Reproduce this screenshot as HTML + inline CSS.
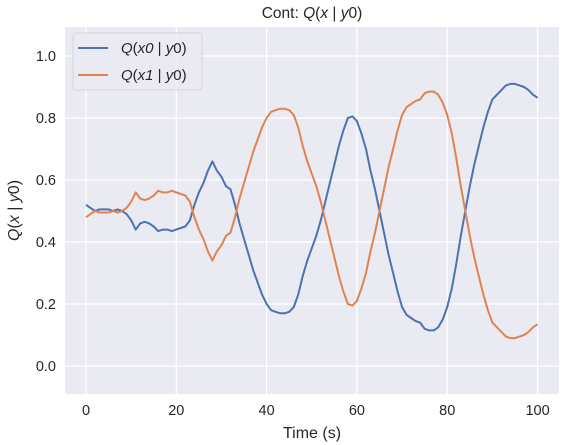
<!DOCTYPE html>
<html><head><meta charset="utf-8"><style>
body{margin:0;background:#fff;}
svg{display:block;font-family:"Liberation Sans","DejaVu Sans",sans-serif;}
</style></head><body>
<svg id="chart" width="562" height="445"></svg>
<script>
const times = [0,1,2,3,4,5,6,7,8,9,10,11,12,13,14,15,16,17,18,19,20,21,22,23,24,25,26,27,28,29,30,31,32,33,34,35,36,37,38,39,40,41,42,43,44,45,46,47,48,49,50,51,52,53,54,55,56,57,58,59,60,61,62,63,64,65,66,67,68,69,70,71,72,73,74,75,76,77,78,79,80,81,82,83,84,85,86,87,88,89,90,91,92,93,94,95,96,97,98,99,100];
const q0 = [0.52,0.51,0.50,0.505,0.505,0.505,0.50,0.505,0.50,0.49,0.47,0.44,0.46,0.465,0.46,0.45,0.435,0.44,0.44,0.435,0.44,0.445,0.45,0.47,0.52,0.56,0.59,0.63,0.66,0.63,0.61,0.58,0.57,0.52,0.46,0.41,0.36,0.31,0.27,0.23,0.20,0.18,0.175,0.17,0.17,0.175,0.19,0.23,0.29,0.34,0.38,0.42,0.47,0.53,0.59,0.65,0.71,0.76,0.80,0.805,0.79,0.75,0.70,0.63,0.57,0.50,0.43,0.36,0.30,0.24,0.19,0.165,0.155,0.145,0.14,0.12,0.115,0.115,0.125,0.15,0.19,0.25,0.33,0.42,0.50,0.58,0.65,0.71,0.77,0.82,0.86,0.875,0.89,0.905,0.91,0.91,0.905,0.90,0.89,0.875,0.865];
const q1 = [0.48,0.49,0.50,0.495,0.495,0.495,0.50,0.495,0.50,0.51,0.53,0.56,0.54,0.535,0.54,0.55,0.565,0.56,0.56,0.565,0.56,0.555,0.55,0.53,0.48,0.44,0.41,0.37,0.34,0.37,0.39,0.42,0.43,0.48,0.54,0.59,0.64,0.69,0.73,0.77,0.80,0.82,0.825,0.83,0.83,0.825,0.81,0.77,0.71,0.66,0.62,0.58,0.53,0.47,0.41,0.35,0.29,0.24,0.20,0.195,0.21,0.25,0.30,0.37,0.43,0.50,0.57,0.64,0.70,0.76,0.81,0.835,0.845,0.855,0.86,0.88,0.885,0.885,0.875,0.85,0.81,0.75,0.67,0.58,0.50,0.42,0.35,0.29,0.23,0.18,0.14,0.125,0.11,0.095,0.09,0.09,0.095,0.10,0.11,0.125,0.135];
const xTicks = [0,20,40,60,80,100];
const yTicks = [0.0,0.2,0.4,0.6,0.8,1.0];
const yTickLabels = ["0.0","0.2","0.4","0.6","0.8","1.0"];

const NS="http://www.w3.org/2000/svg";
const svg=document.getElementById('chart');
const L=65,R=559,T=27,B=394;
const xMin=-4.65,xMax=104.75,yMin=-0.0903,yMax=1.0935;
const sx=v=>L+(v-xMin)/(xMax-xMin)*(R-L);
const sy=v=>B-(v-yMin)/(yMax-yMin)*(B-T);
function mk(tag,attrs,parent){const e=document.createElementNS(NS,tag);for(const k in attrs)e.setAttribute(k,attrs[k]);(parent||svg).appendChild(e);return e;}

const bg=mk('rect',{x:L,y:T,width:R-L,height:B-T,fill:'#eaeaf2'});



xTicks.forEach(t=>{
  const g=mk('line',{x1:sx(t),x2:sx(t),y1:T,y2:B,stroke:'#fff','stroke-width':1.2});
  
  
  const tx=mk('text',{x:sx(t),y:B+21,'text-anchor':'middle','font-size':14.5,fill:'#262626'});
  tx.textContent=t;
  
  
});
yTicks.forEach((t,i)=>{
  const g=mk('line',{x1:L,x2:R,y1:sy(t),y2:sy(t),stroke:'#fff','stroke-width':1.2});
  
  
  const tx=mk('text',{x:L-9,y:sy(t)+5,'text-anchor':'end','font-size':14.5,fill:'#262626'});
  tx.textContent=yTickLabels[i];
  
  
});

function line(vals,color,name){
  const d=vals.map((v,i)=>(i?'L':'M')+sx(times[i]).toFixed(1)+','+sy(v).toFixed(1)).join('');
  const p=mk('path',{d:d,fill:'none',stroke:color,'stroke-width':2,'stroke-linejoin':'round'});
  
  
}
line(q0,'#4c72b0','series-q-x0');
line(q1,'#dd8452','series-q-x1');

const title=mk('text',{x:(L+R)/2,y:18,'text-anchor':'middle','font-size':15.5,fill:'#262626'});
title.innerHTML='Cont: <tspan font-style="italic">Q</tspan>(<tspan font-style="italic">x</tspan> | <tspan font-style="italic">y</tspan>0)';



const xl=mk('text',{x:(L+R)/2,y:438,'text-anchor':'middle','font-size':16,fill:'#262626'});
xl.textContent='Time (s)';



const yl=mk('text',{x:0,y:0,'text-anchor':'middle','font-size':16,fill:'#262626',transform:'translate(19,'+((T+B)/2)+') rotate(-90)'});
yl.innerHTML='<tspan font-style="italic">Q</tspan>(<tspan font-style="italic">x</tspan> | <tspan font-style="italic">y</tspan>0)';



const lg=mk('g',{});


mk('rect',{x:73,y:33,width:129,height:57,rx:3,fill:'#eaeaf2','fill-opacity':0.8,stroke:'#d6d6d6'},lg);
[['#4c72b0','x0',48,'legend-entry-q-x0'],['#dd8452','x1',75,'legend-entry-q-x1']].forEach(e=>{
  const g=mk('g',{},lg);
  
  
  mk('line',{x1:78,x2:108,y1:e[2],y2:e[2],stroke:e[0],'stroke-width':2},g);
  const t=mk('text',{x:121,y:e[2]+5,'font-size':15,fill:'#262626'},g);
  t.innerHTML='<tspan font-style="italic">Q</tspan>(<tspan font-style="italic">'+e[1]+'</tspan> | <tspan font-style="italic">y</tspan>0)';
});
</script>
</body></html>
